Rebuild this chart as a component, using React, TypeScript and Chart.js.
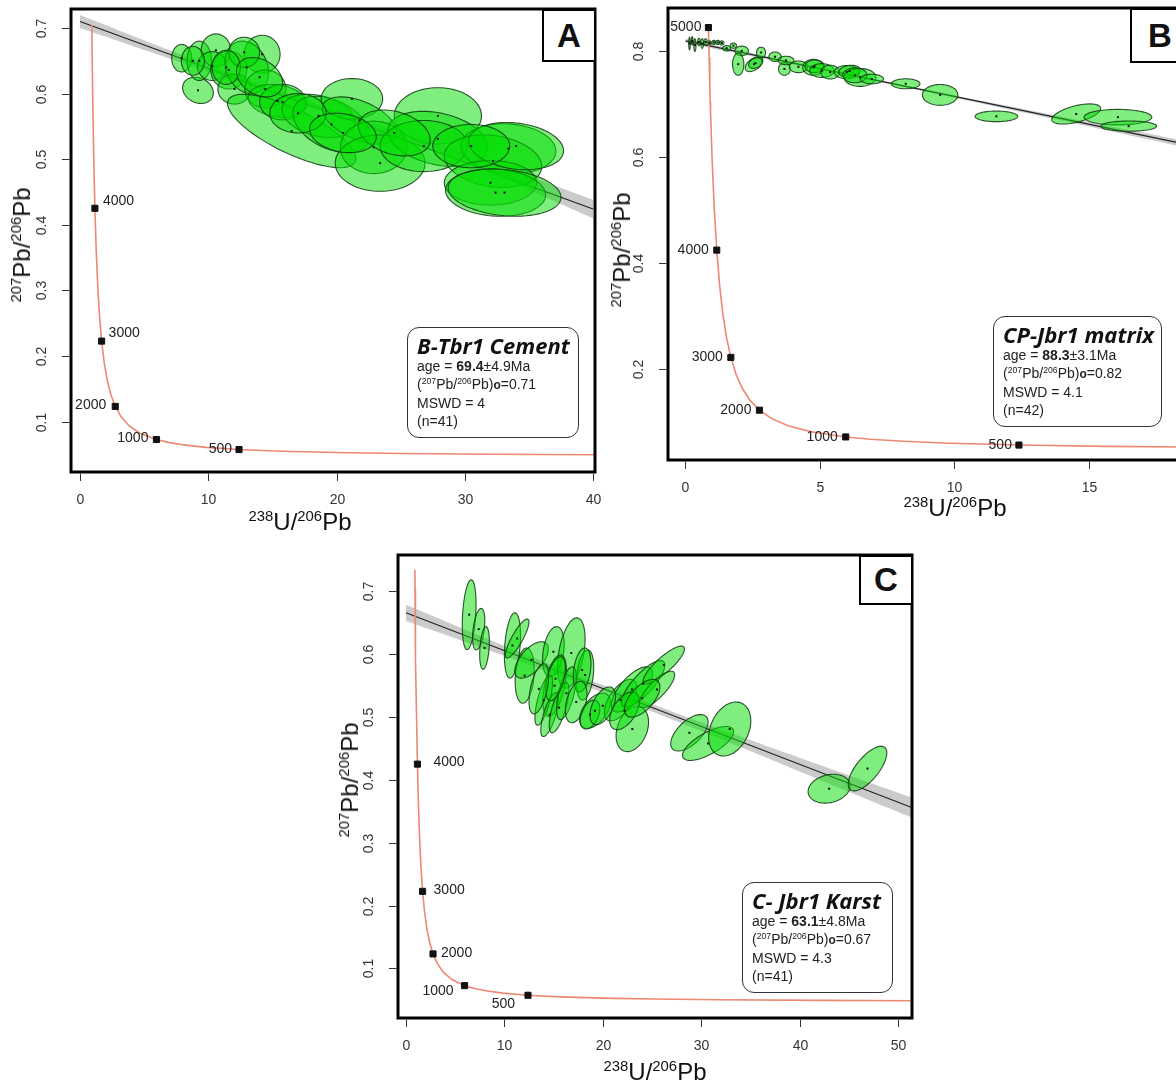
import React, { useEffect, useRef } from "react";
import { Chart, registerables } from "chart.js";
Chart.register(...registerables);

// ---------- Concordia (Tera-Wasserburg) reference points ----------
const concAge = [5000, 4900, 4800, 4740, 4700, 4500, 4250, 4000, 3750, 3500, 3250, 3000, 2750, 2500, 2250, 2000, 1750, 1500, 1250, 1000, 875, 750, 625, 500, 400, 300, 250, 200, 150, 120, 100, 90, 80];
const concX = [0.8532, 0.8783, 0.9045, 0.9207, 0.9318, 0.9902, 1.0714, 1.1631, 1.2673, 1.3868, 1.5253, 1.6872, 1.8796, 2.1109, 2.3941, 2.7491, 3.2063, 3.8169, 4.6733, 5.9591, 6.8789, 8.1051, 9.8224, 12.399, 15.621, 20.992, 25.289, 31.735, 42.477, 53.22, 63.96, 71.13, 80.08];
const concY = [0.8451, 0.7879, 0.7346, 0.7045, 0.6852, 0.5967, 0.503, 0.4251, 0.36, 0.3058, 0.2605, 0.2226, 0.1909, 0.1643, 0.1419, 0.123, 0.1071, 0.0936, 0.0822, 0.0725, 0.0682, 0.0643, 0.0606, 0.0572, 0.0547, 0.0523, 0.0512, 0.0501, 0.049, 0.0484, 0.048, 0.0478, 0.0476];

// ---------- Panel A : B-Tbr1 Cement ----------
const aMarkerAges = [4000, 3000, 2000, 1000, 500];
const aConcStart = 4740;
const aXTicks = [0, 10, 20, 30, 40];
const aYTicks = [0.1, 0.2, 0.3, 0.4, 0.5, 0.6, 0.7];
const aLineX = [0, 40];
const aLineY = [0.71, 0.424];
const aBandX = [0, 8, 16, 24, 32, 40];
const aBandHi = [0.72, 0.6588, 0.6016, 0.5474, 0.4962, 0.438];
const aBandLo = [0.70, 0.6468, 0.5936, 0.5374, 0.4782, 0.41];
const aEllX = [7.93, 9.2, 9.3, 10.6, 10.3, 11.6, 12.05, 14.2, 13.0, 14.45, 15.4, 16.5, 15.8, 18.6, 19.6, 21.2, 21.8, 22.9, 23.4, 27.9, 27.9, 26.8, 33.4, 32.2, 32.0, 32.4, 33.1, 34.0, 12.8, 11.4, 17.0, 24.5, 30.5, 20.5, 14.0, 8.8];
const aEllY = [0.654, 0.605, 0.65, 0.666, 0.642, 0.636, 0.607, 0.66, 0.64, 0.607, 0.589, 0.543, 0.587, 0.566, 0.553, 0.592, 0.559, 0.518, 0.494, 0.566, 0.531, 0.52, 0.516, 0.497, 0.464, 0.449, 0.449, 0.52, 0.663, 0.64, 0.57, 0.54, 0.52, 0.54, 0.625, 0.65];
const aEllRX = [0.78, 1.2, 0.95, 1.15, 1.15, 1.4, 1.3, 1.4, 1.7, 1.6, 2.3, 5.0, 1.8, 2.85, 3.0, 2.4, 2.9, 2.6, 3.5, 3.4, 3.9, 3.4, 3.7, 3.8, 3.6, 3.9, 4.4, 3.7, 1.2, 1.1, 2.2, 2.8, 3.0, 2.6, 1.8, 0.9];
const aEllRY = [0.021, 0.02, 0.03, 0.025, 0.022, 0.029, 0.023, 0.029, 0.04, 0.029, 0.025, 0.056, 0.027, 0.033, 0.043, 0.031, 0.036, 0.04, 0.043, 0.043, 0.042, 0.039, 0.038, 0.04, 0.034, 0.036, 0.036, 0.036, 0.023, 0.026, 0.03, 0.035, 0.033, 0.03, 0.03, 0.022];
const aEllRho = [0, -0.2, 0, 0, 0, 0, 0, 0, -0.2, 0, -0.2, -0.75, 0, -0.3, -0.4, 0, -0.5, 0, 0, 0, -0.3, 0, -0.1, -0.2, 0, -0.1, -0.2, -0.2, 0, 0, 0, -0.3, 0, -0.2, -0.3, 0];

// ---------- Panel B : CP-Jbr1 matrix ----------
const bMarkerAges = [5000, 4000, 3000, 2000, 1000, 500];
const bConcStart = 5000;
const bXTicks = [0, 5, 10, 15];
const bYTicks = [0.2, 0.4, 0.6, 0.8];
const bLineX = [0, 18.5];
const bLineY = [0.82, 0.626];
const bBandX = [0, 6, 12, 18.5];
const bBandHi = [0.824, 0.759, 0.697, 0.632];
const bBandLo = [0.816, 0.755, 0.691, 0.620];
const bEllX = [0.15, 0.25, 0.35, 0.5, 0.62, 0.75, 0.9, 1.05, 1.2, 1.35, 1.53, 1.78, 2.09, 1.96, 2.55, 2.6, 2.81, 3.33, 3.68, 3.74, 4.2, 4.76, 4.8, 5.07, 5.38, 6.0, 6.1, 6.49, 6.3, 6.93, 8.19, 9.47, 11.56, 14.53, 16.08, 16.48];
const bEllY = [0.815, 0.82, 0.812, 0.818, 0.815, 0.818, 0.816, 0.817, 0.817, 0.816, 0.806, 0.811, 0.801, 0.776, 0.776, 0.778, 0.798, 0.79, 0.767, 0.783, 0.771, 0.77, 0.772, 0.764, 0.761, 0.761, 0.763, 0.751, 0.755, 0.748, 0.739, 0.718, 0.6775, 0.682, 0.676, 0.659];
const bEllRX = [0.03, 0.03, 0.04, 0.05, 0.05, 0.06, 0.06, 0.07, 0.08, 0.08, 0.15, 0.12, 0.25, 0.21, 0.33, 0.25, 0.17, 0.23, 0.22, 0.29, 0.34, 0.4, 0.35, 0.45, 0.35, 0.47, 0.4, 0.59, 0.45, 0.43, 0.53, 0.66, 0.79, 0.91, 1.26, 1.04];
const bEllRY = [0.012, 0.008, 0.012, 0.007, 0.009, 0.006, 0.004, 0.004, 0.004, 0.004, 0.005, 0.005, 0.009, 0.021, 0.014, 0.01, 0.01, 0.009, 0.012, 0.008, 0.011, 0.015, 0.012, 0.013, 0.013, 0.0125, 0.011, 0.017, 0.014, 0.009, 0.0094, 0.0197, 0.01, 0.019, 0.0147, 0.0097];
const bEllRho = [0, 0, 0, 0, 0, 0, 0, 0, 0, 0, 0, 0, 0, 0, 0.5, 0.3, 0, 0, 0, 0, 0, 0, 0, 0, 0, 0, 0.2, 0, 0, 0, 0, 0, 0, 0.55, 0, 0];

// ---------- Panel C : C- Jbr1 Karst ----------
const cMarkerAges = [4000, 3000, 2000, 1000, 500];
const cConcStart = 4800;
const cXTicks = [0, 10, 20, 30, 40, 50];
const cYTicks = [0.1, 0.2, 0.3, 0.4, 0.5, 0.6, 0.7];
const cLineX = [0, 51.4];
const cLineY = [0.666, 0.356];
const cBandX = [0, 10, 20, 30, 40, 51.4];
const cBandHi = [0.679, 0.6136, 0.5512, 0.4918, 0.4354, 0.372];
const cBandLo = [0.653, 0.5976, 0.5392, 0.4778, 0.4134, 0.340];
const cEllX = [6.42, 7.39, 7.98, 10.82, 11.3, 12.06, 12.76, 14.98, 16.8, 15.1, 14.0, 14.6, 15.56, 16.3, 15.2, 18.2, 17.9, 17.3, 19.2, 18.7, 21.8, 22.96, 23.0, 24.1, 26.2, 25.5, 28.8, 30.7, 32.9, 43.0, 46.9, 20.0, 22.2, 13.5, 24.0];
const cEllY = [0.663, 0.64, 0.61, 0.614, 0.625, 0.566, 0.591, 0.604, 0.602, 0.55, 0.527, 0.504, 0.515, 0.538, 0.561, 0.567, 0.575, 0.524, 0.51, 0.504, 0.527, 0.544, 0.481, 0.553, 0.583, 0.544, 0.475, 0.458, 0.481, 0.386, 0.418, 0.518, 0.51, 0.545, 0.53];
const cEllRX = [0.7, 0.62, 0.49, 0.82, 1.2, 0.97, 1.7, 1.1, 1.4, 1.2, 0.9, 0.9, 1.0, 1.0, 1.0, 0.88, 0.9, 1.1, 1.56, 1.0, 1.65, 2.1, 1.65, 2.2, 2.1, 1.8, 1.9, 2.6, 2.14, 2.14, 1.96, 1.3, 1.5, 1.0, 1.8];
const cEllRY = [0.0556, 0.033, 0.034, 0.052, 0.031, 0.044, 0.029, 0.04, 0.056, 0.049, 0.04, 0.035, 0.04, 0.042, 0.035, 0.04, 0.035, 0.033, 0.028, 0.023, 0.033, 0.036, 0.036, 0.037, 0.03, 0.029, 0.029, 0.027, 0.043, 0.023, 0.0355, 0.03, 0.03, 0.04, 0.03];
const cEllRho = [0.3, 0.4, 0.3, 0.3, 0.85, 0.2, 0.6, 0.3, 0.4, 0.5, 0.7, 0.7, 0.7, 0.6, 0.5, 0.3, 0.3, 0.4, 0.5, 0.4, 0.6, 0.7, 0.3, 0.8, 0.85, 0.8, 0.6, 0.7, 0.3, 0.2, 0.7, 0.5, 0.5, 0.5, 0.6];

// ---------- styling / layout (not data) ----------
const FONT = "'Liberation Sans', Arial, sans-serif";
type LabelPos = { dx: number; dy: number; align: CanvasTextAlign };

interface PanelDef {
  frame: { l: number; t: number; r: number; b: number };
  xRange: [number, number];
  yRange: [number, number];
  xTicks: number[];
  yTicks: number[];
  concStart: number;
  markerAges: number[];
  labelPos: LabelPos[];
  lineX: number[]; lineY: number[];
  bandX: number[]; bandHi: number[]; bandLo: number[];
  ex: number[]; ey: number[]; erx: number[]; ery: number[]; er: number[];
}

const CW = 1200, CH = 1086;

const panels: PanelDef[] = [
  {
    frame: { l: 71, t: 9, r: 595, b: 472 },
    xRange: [-0.7, 40.15], yRange: [0.023, 0.729],
    xTicks: aXTicks, yTicks: aYTicks, concStart: aConcStart, markerAges: aMarkerAges,
    labelPos: [
      { dx: 8, dy: -7, align: "left" }, { dx: 7, dy: -8, align: "left" },
      { dx: -9, dy: -1, align: "right" }, { dx: -8, dy: -1, align: "right" }, { dx: -7, dy: 0, align: "right" },
    ],
    lineX: aLineX, lineY: aLineY, bandX: aBandX, bandHi: aBandHi, bandLo: aBandLo,
    ex: aEllX, ey: aEllY, erx: aEllRX, ery: aEllRY, er: aEllRho,
  },
  {
    frame: { l: 668, t: 8, r: 1183, b: 460 },
    xRange: [-0.65, 18.5], yRange: [0.029, 0.882],
    xTicks: bXTicks, yTicks: bYTicks, concStart: bConcStart, markerAges: bMarkerAges,
    labelPos: [
      { dx: -7, dy: 0, align: "right" }, { dx: -8, dy: 0, align: "right" }, { dx: -8, dy: 0, align: "right" },
      { dx: -8, dy: 0, align: "right" }, { dx: -8, dy: 0, align: "right" }, { dx: -7, dy: 0, align: "right" },
    ],
    lineX: bLineX, lineY: bLineY, bandX: bBandX, bandHi: bBandHi, bandLo: bBandLo,
    ex: bEllX, ey: bEllY, erx: bEllRX, ery: bEllRY, er: bEllRho,
  },
  {
    frame: { l: 398, t: 555, r: 912, b: 1018 },
    xRange: [-0.81, 51.42], yRange: [0.021, 0.758],
    xTicks: cXTicks, yTicks: cYTicks, concStart: cConcStart, markerAges: cMarkerAges,
    labelPos: [
      { dx: 16, dy: -2, align: "left" }, { dx: 11, dy: -1, align: "left" }, { dx: 8, dy: -1, align: "left" },
      { dx: -11, dy: 5, align: "right" }, { dx: -13, dy: 9, align: "right" },
    ],
    lineX: cLineX, lineY: cLineY, bandX: cBandX, bandHi: cBandHi, bandLo: cBandLo,
    ex: cEllX, ey: cEllY, erx: cEllRX, ery: cEllRY, er: cEllRho,
  },
];

const decorPlugin = {
  id: "decor",
  afterDatasetsDraw(chart: any, _a: any, opts: any) {
    const p: PanelDef = opts.panel;
    const { ctx, chartArea: ca } = chart;
    const xs = chart.scales.x, ys = chart.scales.y;
    ctx.save();
    ctx.beginPath();
    ctx.rect(ca.left, ca.top, ca.right - ca.left, ca.bottom - ca.top);
    ctx.clip();
    for (let i = 0; i < p.ex.length; i++) {
      const rho = p.er[i];
      const s = Math.sqrt(1 - rho * rho);
      ctx.beginPath();
      for (let k = 0; k <= 80; k++) {
        const t = (k / 80) * Math.PI * 2;
        const vx = p.ex[i] + p.erx[i] * Math.cos(t);
        const vy = p.ey[i] + p.ery[i] * (rho * Math.cos(t) + s * Math.sin(t));
        const px = xs.getPixelForValue(vx), py = ys.getPixelForValue(vy);
        if (k === 0) ctx.moveTo(px, py); else ctx.lineTo(px, py);
      }
      ctx.closePath();
      ctx.fillStyle = "rgba(0,222,0,0.5)";
      ctx.fill();
      ctx.strokeStyle = "rgba(15,55,15,0.85)";
      ctx.lineWidth = 1.1;
      ctx.stroke();
    }
    ctx.fillStyle = "#111";
    for (let i = 0; i < p.ex.length; i++) {
      const px = xs.getPixelForValue(p.ex[i]), py = ys.getPixelForValue(p.ey[i]);
      ctx.fillRect(px - 1, py - 1, 2, 2);
    }
    ctx.restore();
  },
  afterDraw(chart: any, _a: any, opts: any) {
    const p: PanelDef = opts.panel;
    const { ctx, chartArea: ca } = chart;
    const xs = chart.scales.x, ys = chart.scales.y;
    ctx.save();
    // frame
    ctx.strokeStyle = "#000";
    ctx.lineWidth = 3;
    ctx.strokeRect(ca.left, ca.top, ca.right - ca.left, ca.bottom - ca.top);
    // ticks
    ctx.lineWidth = 1;
    ctx.strokeStyle = "#333";
    ctx.fillStyle = "#333";
    ctx.font = `14px ${FONT}`;
    ctx.textAlign = "center";
    ctx.textBaseline = "middle";
    for (const v of p.xTicks) {
      const px = Math.round(xs.getPixelForValue(v)) + 0.5;
      ctx.beginPath();
      ctx.moveTo(px, ca.bottom + 1.5);
      ctx.lineTo(px, ca.bottom + 9);
      ctx.stroke();
      ctx.fillText(String(v), px, ca.bottom + 28);
    }
    for (const v of p.yTicks) {
      const py = Math.round(ys.getPixelForValue(v)) + 0.5;
      ctx.beginPath();
      ctx.moveTo(ca.left - 1.5, py);
      ctx.lineTo(ca.left - 9, py);
      ctx.stroke();
      ctx.save();
      ctx.translate(ca.left - 29, py);
      ctx.rotate(-Math.PI / 2);
      ctx.fillText(String(v), 0, 0);
      ctx.restore();
    }
    // age labels
    ctx.fillStyle = "#222";
    ctx.textBaseline = "middle";
    p.markerAges.forEach((age, i) => {
      const j = concAge.indexOf(age);
      const px = xs.getPixelForValue(concX[j]);
      const py = ys.getPixelForValue(concY[j]);
      const lp = p.labelPos[i];
      ctx.textAlign = lp.align;
      ctx.fillText(String(age), px + lp.dx, py + lp.dy);
    });
    ctx.restore();
  },
};

function buildConfig(p: PanelDef): any {
  const startIdx = concAge.indexOf(p.concStart);
  const concData = concX.slice(startIdx).map((x, i) => ({ x, y: concY[startIdx + i] }));
  const markerData = p.markerAges.map((a) => {
    const j = concAge.indexOf(a);
    return { x: concX[j], y: concY[j] };
  });
  const hi = p.bandX.map((x, i) => ({ x, y: p.bandHi[i] }));
  const lo = p.bandX.map((x, i) => ({ x, y: p.bandLo[i] }));
  const line = p.lineX.map((x, i) => ({ x, y: p.lineY[i] }));
  return {
    type: "scatter",
    data: {
      datasets: [
        { data: hi, showLine: true, pointRadius: 0, borderWidth: 0, borderColor: "rgba(0,0,0,0)", backgroundColor: "rgba(185,185,185,0.75)", fill: "+1", tension: 0.4, order: 6 },
        { data: lo, showLine: true, pointRadius: 0, borderWidth: 0, borderColor: "rgba(0,0,0,0)", fill: false, tension: 0.4, order: 5 },
        { data: line, showLine: true, pointRadius: 0, borderWidth: 1.2, borderColor: "#222", fill: false, order: 4 },
        { data: concData, showLine: true, pointRadius: 0, borderWidth: 1.6, borderColor: "#ee8872", fill: false, tension: 0, order: 3 },
        { data: markerData, showLine: false, pointStyle: "rect", pointRadius: 4.3, backgroundColor: "#111", borderColor: "#111", borderWidth: 1, order: 1 },
      ],
    },
    options: {
      animation: false,
      responsive: false,
      devicePixelRatio: 1,
      events: [],
      layout: { padding: { left: p.frame.l, top: p.frame.t, right: CW - p.frame.r, bottom: CH - p.frame.b } },
      plugins: { legend: { display: false }, tooltip: { enabled: false }, decor: { panel: p } },
      scales: {
        x: { type: "linear", min: p.xRange[0], max: p.xRange[1], display: false },
        y: { type: "linear", min: p.yRange[0], max: p.yRange[1], display: false },
      },
    },
    plugins: [decorPlugin],
  };
}

function PanelCanvas({ p }: { p: PanelDef }) {
  const ref = useRef<HTMLCanvasElement | null>(null);
  useEffect(() => {
    if (!ref.current) return;
    const chart = new Chart(ref.current, buildConfig(p));
    return () => chart.destroy();
  }, [p]);
  return <canvas ref={ref} width={CW} height={CH} style={{ position: "absolute", left: 0, top: 0, width: CW, height: CH }} />;
}

const sup: React.CSSProperties = { fontSize: "0.62em", position: "relative", top: "-0.62em", verticalAlign: "baseline" };

function XTitle({ cx, cy }: { cx: number; cy: number }) {
  return (
    <div style={{ position: "absolute", left: cx, top: cy, transform: "translate(-50%,-50%)", fontFamily: FONT, fontSize: 24, color: "#111", whiteSpace: "nowrap", lineHeight: 1 }}>
      <span style={sup}>238</span>U/<span style={sup}>206</span>Pb
    </div>
  );
}
function YTitle({ cx, cy }: { cx: number; cy: number }) {
  return (
    <div style={{ position: "absolute", left: cx, top: cy, transform: "translate(-50%,-50%) rotate(-90deg)", fontFamily: FONT, fontSize: 24, color: "#111", whiteSpace: "nowrap", lineHeight: 1 }}>
      <span style={sup}>207</span>Pb/<span style={sup}>206</span>Pb
    </div>
  );
}
function LetterBox({ l, t, w, h, ch }: { l: number; t: number; w: number; h: number; ch: string }) {
  return (
    <div style={{ position: "absolute", left: l, top: t, width: w, height: h, boxSizing: "border-box", border: "2.5px solid #000", background: "#fff", display: "flex", alignItems: "center", justifyContent: "center", fontFamily: FONT, fontWeight: 700, fontSize: 33, color: "#111" }}>
      {ch}
    </div>
  );
}
function InfoBox({ l, t, w, h, title, age, err, r0, mswd, n }: { l: number; t: number; w: number; h: number; title: string; age: string; err: string; r0: string; mswd: string; n: string }) {
  const ssup: React.CSSProperties = { fontSize: "0.62em", position: "relative", top: "-0.55em", verticalAlign: "baseline" };
  return (
    <div style={{ position: "absolute", left: l, top: t, width: w, height: h, boxSizing: "border-box", border: "1.5px solid #333", borderRadius: 12, background: "#fff", padding: "4px 0 0 9px", fontFamily: FONT, color: "#222", whiteSpace: "nowrap" }}>
      <div style={{ fontFamily: "'Open Sans', 'Noto Sans', sans-serif", fontWeight: 700, fontStyle: "italic", fontSize: 22, lineHeight: "26px", color: "#111" }}>{title}</div>
      <div style={{ fontSize: 14, lineHeight: "17.5px" }}>
        <div>age = <b>{age}</b>±{err}Ma</div>
        <div>(<span style={ssup}>207</span>Pb/<span style={ssup}>206</span>Pb)<b style={{ fontSize: "0.85em" }}>o</b>={r0}</div>
        <div>MSWD = {mswd}</div>
        <div>(n={n})</div>
      </div>
    </div>
  );
}

export default function App() {
  return (
    <div style={{ position: "absolute", left: 0, top: 0, width: 1176, height: 1086, overflow: "hidden", background: "#fff" }}>
      {panels.map((p, i) => <PanelCanvas key={i} p={p} />)}
      <LetterBox l={542} t={9} w={54} h={53} ch="A" />
      <LetterBox l={1130} t={8} w={60} h={55} ch="B" />
      <LetterBox l={859} t={555} w={54} h={50} ch="C" />
      <InfoBox l={407} t={327} w={172} h={111} title="B-Tbr1 Cement" age="69.4" err="4.9" r0="0.71" mswd="4" n="41" />
      <InfoBox l={993} t={316} w={169} h={111} title="CP-Jbr1 matrix" age="88.3" err="3.1" r0="0.82" mswd="4.1" n="42" />
      <InfoBox l={742} t={882} w={151} h={111} title="C- Jbr1 Karst" age="63.1" err="4.8" r0="0.67" mswd="4.3" n="41" />
      <YTitle cx={22} cy={245} />
      <XTitle cx={300} cy={522} />
      <YTitle cx={622} cy={250} />
      <XTitle cx={955} cy={508} />
      <YTitle cx={350} cy={780} />
      <XTitle cx={655} cy={1072} />
    </div>
  );
}
